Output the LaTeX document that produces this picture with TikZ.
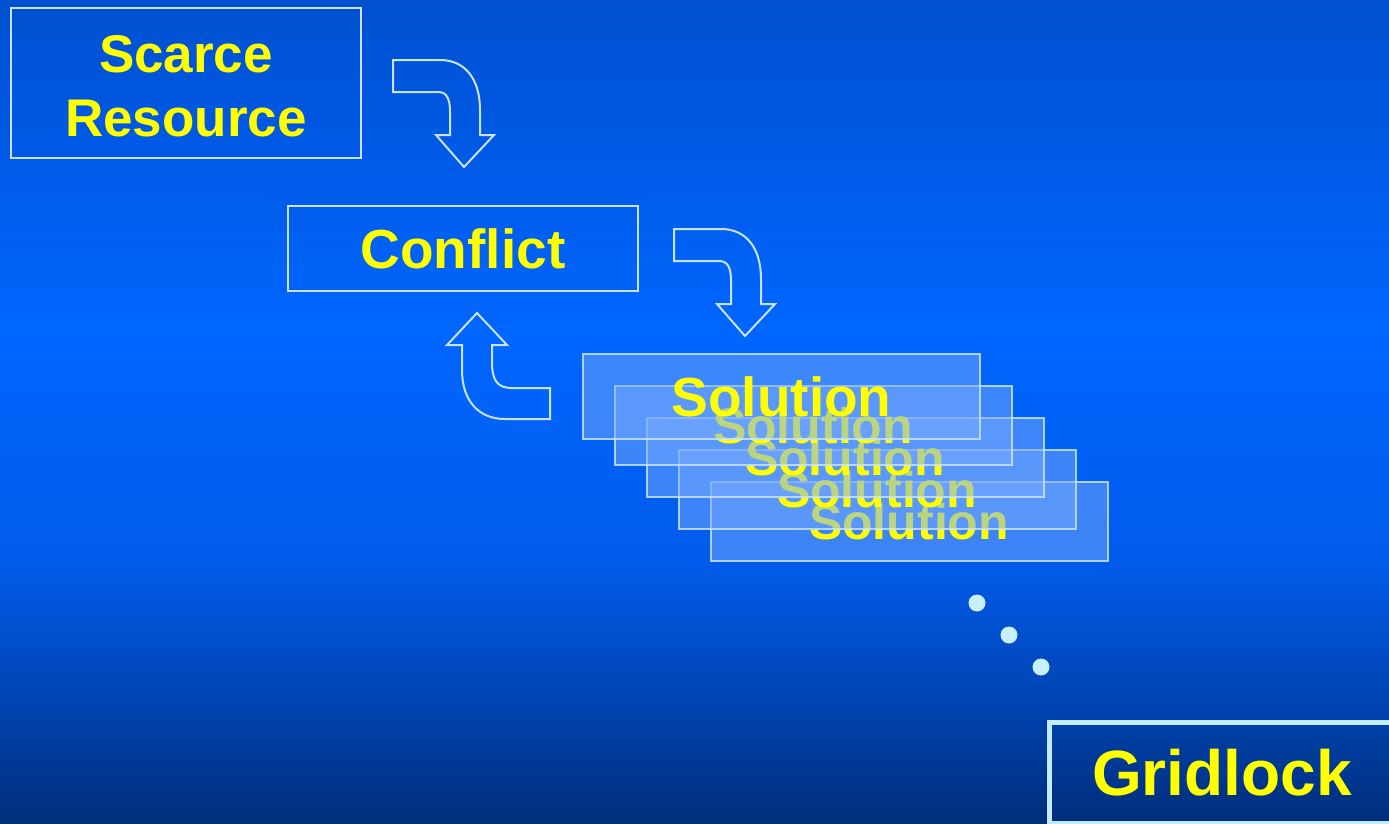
\documentclass[tikz,border=0pt]{standalone}
\usepackage{fontspec}
\setmainfont{Liberation Sans}
\definecolor{bgTop}{RGB}{0,80,208}
\definecolor{bgMid}{RGB}{0,102,255}
\definecolor{bgLow}{RGB}{0,92,235}
\definecolor{bgDeep}{RGB}{0,68,178}
\definecolor{bgBot}{RGB}{0,46,122}
\definecolor{frameline}{RGB}{200,226,255}
\definecolor{solfill}{RGB}{120,170,255}
\definecolor{dotcol}{RGB}{200,240,255}
\definecolor{gridframe}{RGB}{196,234,255}
\definecolor{txtyellow}{RGB}{255,255,0}
\pgfdeclareverticalshading{slidebg}{100bp}{color(0bp)=(bgBot); color(25bp)=(bgBot); color(32.5bp)=(bgDeep); color(41bp)=(bgLow); color(55bp)=(bgMid); color(75bp)=(bgTop); color(100bp)=(bgTop)}
\begin{document}
\begin{tikzpicture}[x=1pt,y=-1pt,
  every node/.style={font=\bfseries\fontsize{55}{65}\selectfont, text=txtyellow},
  plainbox/.style={draw=frameline, line width=2pt, inner sep=0pt},
  solbox/.style={draw=frameline, draw opacity=0.85, line width=2pt, fill=solfill,
    fill opacity=0.5, text opacity=1, inner sep=0pt, minimum width=397pt},
  backsol/.style={solbox, minimum height=79pt, font=\bfseries\fontsize{50}{60}\selectfont},
  bentarrow/.style={draw=frameline, line width=2pt, line join=miter},
  dot/.style={circle, fill=dotcol, inner sep=0pt, minimum size=17pt}]
  % background
  \useasboundingbox (0,0) rectangle (1389,823);
  \shade[shading=slidebg] (0,0) rectangle (1389,823);

  % top boxes
  \node[plainbox, minimum width=350pt, minimum height=150pt, align=center,
    font=\bfseries\fontsize{53}{64}\selectfont]
    (scarce) at (186,83) {};
  \node[align=center, font=\bfseries\fontsize{53}{64}\selectfont]
    (scarcetext) at (186,86) {Scarce\\Resource};
  \node[plainbox, minimum width=350pt, minimum height=85pt]
    (conflict) at (463,248.5) {Conflict};

  % stacked solutions, back to front
  \node[backsol] (sol5) at (909,521.5) {Solution};
  \node[backsol] (sol4) at (877,489.5) {Solution};
  \node[backsol] (sol3) at (845,457.5) {Solution};
  \node[backsol] (sol2) at (813,425.5) {Solution};
  \node[solbox, minimum height=85pt] (sol1) at (781.5,396.5) {Solution};

  % bent arrow: Scarce Resource -> Conflict
  \draw[bentarrow] (393,60) -- (440,60) .. controls (466,60) and (480,80) .. (480,110)
    -- (480,135) -- (494,135) -- (464,167) -- (436,135) -- (450,135) -- (450,112)
    .. controls (450,99) and (447,92) .. (438,92) -- (393,92) -- cycle;
  % bent arrow: Conflict -> Solution
  \begin{scope}[shift={(281,169)}]
    \draw[bentarrow] (393,60) -- (440,60) .. controls (466,60) and (480,80) .. (480,110)
      -- (480,135) -- (494,135) -- (464,167) -- (436,135) -- (450,135) -- (450,112)
      .. controls (450,99) and (447,92) .. (438,92) -- (393,92) -- cycle;
  \end{scope}
  % bent arrow: Solution -> Conflict
  \draw[bentarrow] (477,313) -- (507,345) -- (492,345) -- (492,362)
    .. controls (492,380) and (497,388) .. (512,388) -- (550,388) -- (550,419)
    -- (505,419) .. controls (478,419) and (462,400) .. (462,370)
    -- (462,345) -- (447,345) -- cycle;

  % trailing dots
  \node[dot] (d1) at (977,603) {};
  \node[dot] (d2) at (1009,635) {};
  \node[dot] (d3) at (1041,667) {};

  % final box, running off the page
  \node[draw=gridframe, line width=5pt, inner sep=0pt, minimum width=346pt,
    minimum height=101pt, font=\bfseries\fontsize{64}{70}\selectfont]
    (gridlock) at (1222,773) {Gridlock};
\end{tikzpicture}
\end{document}
